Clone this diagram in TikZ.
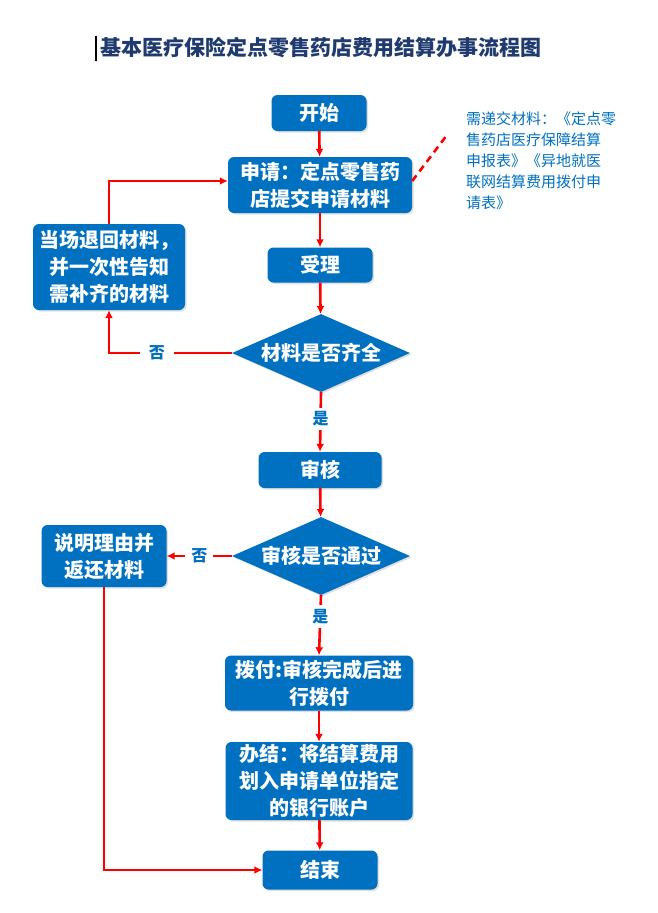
\documentclass[tikz,border=0pt]{standalone}
\usepackage{fontspec}
\setmainfont{Noto Sans CJK SC}
\usepackage{tikz}
\usetikzlibrary{shapes.geometric,arrows.meta,shadows}
\definecolor{boxblue}{HTML}{0070C0}
\definecolor{titleblue}{HTML}{1F3A6E}

\begin{document}
\begin{tikzpicture}[x=1pt,y=-1pt,
            box/.style={rectangle,rounded corners=6pt,fill=boxblue,text=white,inner sep=0pt,align=center,
                font=\fontsize{20}{27}\selectfont\bfseries,
                drop shadow={shadow xshift=1.5pt,shadow yshift=-1.5pt,opacity=0.25}},
            decision/.style={diamond,aspect=2.3,fill=boxblue,text=white,inner sep=0pt,
                minimum width=178pt,minimum height=78pt,font=\fontsize{20}{27}\selectfont\bfseries,
                drop shadow={shadow xshift=1.5pt,shadow yshift=-1.5pt,opacity=0.25}},
            arr/.style={draw=red,line width=2.6pt,-{Latex[length=8pt,width=8pt]}},
            lbl/.style={fill=white,text=boxblue,inner xsep=9pt,inner ysep=4pt,font=\fontsize{16}{18}\selectfont\bfseries}]
            \useasboundingbox (0,0) rectangle (657,913);

            \node[anchor=west,text=titleblue,font=\fontsize{21}{24}\selectfont\bfseries] (title) at (97,48) {基本医疗保险定点零售药店费用结算办事流程图};
            \draw[line width=1.5pt] (96,36) -- (96,61);

            \node[box,minimum width=95pt,minimum height=36pt] (start) at (319,113) {开始};
            \node[box,minimum width=184pt,minimum height=56pt] (apply) at (320,185) {申请：定点零售药\\店提交申请材料};
            \node[box,minimum width=105pt,minimum height=35pt] (accept) at (320,265) {受理};
            \node[decision] (check1) at (321,353) {材料是否齐全};
            \node[box,minimum width=152pt,minimum height=86pt] (reject) at (109,267) {当场退回材料，\\并一次性告知\\需补齐的材料};
            \node[box,minimum width=123pt,minimum height=36pt] (review) at (320,470) {审核};
            \node[decision] (check2) at (321,556) {审核是否通过};
            \node[box,minimum width=125pt,minimum height=62pt] (giveback) at (104,556) {说明理由并\\返还材料};
            \node[box,minimum width=188pt,minimum height=55pt] (pay) at (319,683) {拨付:审核完成后进\\行拨付};
            \node[box,minimum width=187pt,minimum height=78pt] (settle) at (319,781) {办结：将结算费用\\划入申请单位指定\\的银行账户};
            \node[box,minimum width=115pt,minimum height=39pt] (end) at (320,870) {结束};

            % note on the materials
            \node[anchor=north west,text=boxblue,align=left,inner sep=0pt,font=\fontsize{15}{21}\selectfont] (note) at (466,112)
                {需递交材料：《定点零\\售药店医疗保障结算\\申报表》《异地就医\\联网结算费用拨付申\\请表》};
            \coordinate (noteend) at (447,135);
            \draw[red,line width=2.6pt,dash pattern=on 7pt off 5pt] ([yshift=4pt]apply.east) -- (noteend);

            \draw[arr] (start) -- (apply);
            \draw[arr] (apply) -- (accept);
            \draw[arr] (accept) -- (check1);
            \draw[arr] (check1.west) -- node[lbl,pos=0.61] {否} (reject.south |- check1.west) -- (reject.south);
            \draw[arr] (reject.north) |- ([yshift=4pt]apply.west);
            \draw[arr] (check1.south) -- node[lbl,pos=0.45] {是} (review.north);
            \draw[arr] (review) -- (check2);
            \draw[arr] (check2.west) -- node[lbl,inner xsep=6pt] {否} (giveback.east);
            \draw[arr] (check2.south) -- node[lbl,pos=0.35] {是} (pay.north);
            \draw[arr] (pay) -- (settle);
            \draw[arr] (settle) -- (end);
            \draw[arr] (giveback.south) |- (end.west);
        \end{tikzpicture}
\end{document}
